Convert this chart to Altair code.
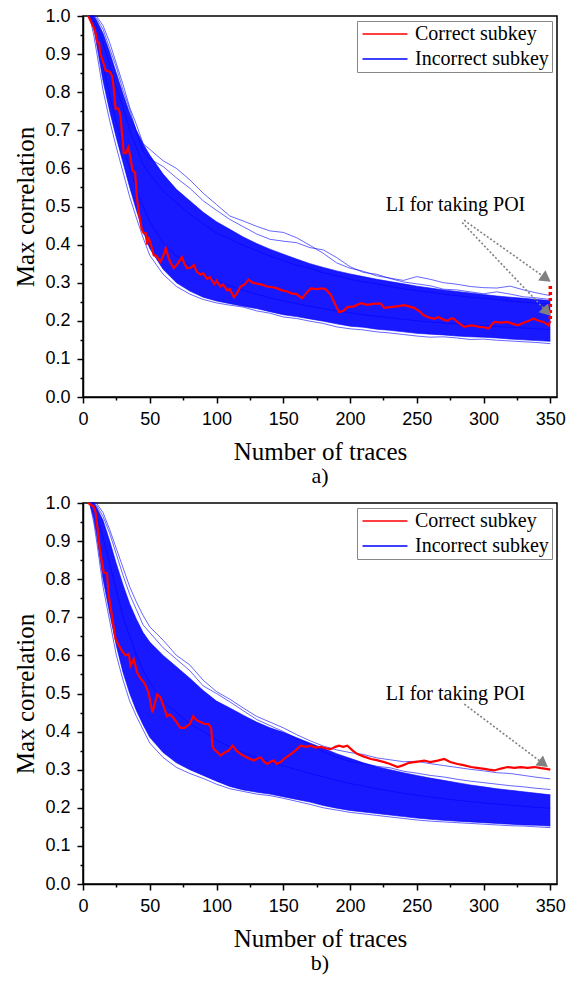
import altair as alt
import pandas as pd
import math

# ---------------- data ----------------
G = [5, 8, 10, 15, 20, 25, 30, 35, 40, 45, 50, 60, 70, 80, 90, 100, 110, 120, 130, 140,
     150, 160, 170, 180, 190, 200, 210, 220, 230, 240, 250, 260, 270, 280, 290, 300,
     310, 320, 330, 340, 350]

# panel a) dense band of incorrect subkeys (lower / upper edge)
A_LOW = [1.0, 0.97, 0.93, 0.83, 0.75, 0.68, 0.615, 0.55, 0.49, 0.435, 0.39, 0.335, 0.30, 0.278,
         0.262, 0.252, 0.245, 0.238, 0.232, 0.224, 0.216, 0.211, 0.205, 0.199, 0.192, 0.186,
         0.183, 0.178, 0.175, 0.171, 0.167, 0.165, 0.163, 0.16, 0.158, 0.157, 0.155, 0.152,
         0.15, 0.148, 0.146]
A_UP = [1.0, 1.0, 0.99, 0.955, 0.905, 0.85, 0.795, 0.745, 0.70, 0.665, 0.635, 0.585, 0.545,
        0.515, 0.485, 0.46, 0.44, 0.42, 0.403, 0.388, 0.375, 0.362, 0.35, 0.34, 0.331, 0.323,
        0.316, 0.309, 0.303, 0.297, 0.291, 0.286, 0.281, 0.277, 0.273, 0.269, 0.265, 0.262,
        0.259, 0.256, 0.253]
# panel a) individual incorrect-subkey traces
A_L1 = [1.0, 1.0, 1.0, 0.975, 0.93, 0.875, 0.82, 0.76, 0.715, 0.665, 0.65, 0.62, 0.60, 0.57,
        0.535, 0.505, 0.475, 0.462, 0.448, 0.436, 0.432, 0.418, 0.398, 0.377, 0.352, 0.338,
        0.33, 0.318, 0.312, 0.306, 0.316, 0.309, 0.30, 0.296, 0.29, 0.287, 0.286, 0.291,
        0.281, 0.273, 0.266]
A_L2 = [1.0, 1.0, 0.995, 0.965, 0.915, 0.865, 0.805, 0.755, 0.695, 0.645, 0.625, 0.605, 0.575,
        0.548, 0.515, 0.49, 0.466, 0.447, 0.428, 0.414, 0.409, 0.405, 0.392, 0.386, 0.366,
        0.342, 0.327, 0.322, 0.311, 0.302, 0.297, 0.292, 0.283, 0.281, 0.276, 0.271, 0.276,
        0.27, 0.263, 0.26, 0.256]
A_L3 = [1.0, 0.99, 0.975, 0.93, 0.87, 0.815, 0.76, 0.7, 0.655, 0.61, 0.585, 0.54, 0.51, 0.48,
        0.455, 0.43, 0.415, 0.398, 0.385, 0.37, 0.358, 0.346, 0.338, 0.326, 0.318, 0.309,
        0.302, 0.297, 0.29, 0.284, 0.279, 0.275, 0.27, 0.266, 0.262, 0.259, 0.256, 0.252,
        0.249, 0.246, 0.244]
A_L4 = [1.0, 0.95, 0.91, 0.805, 0.725, 0.655, 0.59, 0.525, 0.47, 0.418, 0.372, 0.322, 0.29,
        0.27, 0.256, 0.247, 0.241, 0.236, 0.226, 0.22, 0.21, 0.206, 0.199, 0.193, 0.184,
        0.179, 0.176, 0.171, 0.168, 0.164, 0.16, 0.157, 0.158, 0.155, 0.151, 0.152, 0.149,
        0.147, 0.145, 0.143, 0.14]
A_L5 = [1.0, 0.98, 0.95, 0.87, 0.79, 0.72, 0.655, 0.6, 0.545, 0.5, 0.46, 0.405, 0.37, 0.345,
        0.322, 0.305, 0.292, 0.28, 0.27, 0.26, 0.252, 0.245, 0.238, 0.232, 0.226, 0.221,
        0.216, 0.212, 0.208, 0.204, 0.2, 0.197, 0.194, 0.192, 0.189, 0.187, 0.185, 0.183,
        0.181, 0.179, 0.177]

# panel a) correct subkey
RA_X = [4, 8, 9.4, 11, 12, 13, 15, 17, 19, 20.6,
        22, 23, 24.4, 26.6, 28, 29.5, 30.5, 32, 34, 35.5,
        37, 39, 40.6, 42, 44, 45.5, 47, 48, 49, 50.6,
        53, 55, 58, 60, 62, 64.6, 66, 68, 71, 74,
        76, 78, 81, 83, 85, 88, 90, 93, 95, 98.5,
        100, 103, 105, 108, 110, 113, 115, 118, 121, 124,
        127, 131, 134, 138, 142, 145.5, 149, 153, 156, 160,
        164, 167, 170.6, 175, 179.4, 182, 185.6, 188, 191.7, 195,
        198, 203, 208, 213, 218, 223, 225.6, 230, 235, 240.6,
        244, 248, 252, 255, 258, 263, 266, 270, 273, 276,
        278, 281, 285.6, 290, 293, 297, 300, 304, 306, 308,
        313, 318, 322, 325.6, 330, 334, 337.6, 341, 345, 348.6,
        350]
RA_Y = [1.0, 0.97, 0.955, 0.93, 0.93, 0.90, 0.88, 0.857, 0.855, 0.852,
        0.84, 0.81, 0.757, 0.757, 0.74, 0.68, 0.64, 0.64, 0.655, 0.63,
        0.595, 0.59, 0.516, 0.48, 0.44, 0.43, 0.43, 0.40, 0.42, 0.403,
        0.372, 0.37, 0.355, 0.37, 0.39, 0.36, 0.35, 0.338, 0.35, 0.367,
        0.35, 0.338, 0.34, 0.346, 0.33, 0.321, 0.325, 0.31, 0.315, 0.296,
        0.305, 0.29, 0.295, 0.28, 0.283, 0.262, 0.27, 0.29, 0.295, 0.308,
        0.30, 0.297, 0.295, 0.29, 0.288, 0.285, 0.28, 0.277, 0.272, 0.27,
        0.259, 0.272, 0.285, 0.283, 0.285, 0.282, 0.268, 0.25, 0.223, 0.226,
        0.236, 0.238, 0.246, 0.242, 0.245, 0.245, 0.234, 0.236, 0.238, 0.241,
        0.238, 0.234, 0.225, 0.215, 0.21, 0.205, 0.21, 0.203, 0.20, 0.207,
        0.205, 0.195, 0.184, 0.188, 0.187, 0.184, 0.183, 0.18, 0.19, 0.197,
        0.195, 0.197, 0.192, 0.188, 0.195, 0.2, 0.206, 0.2, 0.197, 0.188,
        0.20]
# LI values marked at 350 traces in panel a)
RA_DOTS = [0.205, 0.295]

# panel b)
B_LOW = [1.0, 0.96, 0.92, 0.80, 0.71, 0.625, 0.555, 0.5, 0.455, 0.418, 0.385, 0.345, 0.318,
         0.3, 0.285, 0.27, 0.256, 0.247, 0.241, 0.236, 0.229, 0.222, 0.215, 0.206, 0.199,
         0.193, 0.189, 0.185, 0.181, 0.177, 0.173, 0.17, 0.167, 0.165, 0.163, 0.161, 0.159,
         0.157, 0.155, 0.154, 0.152]
B_UP = [1.0, 1.0, 0.99, 0.955, 0.9, 0.84, 0.785, 0.735, 0.695, 0.66, 0.635, 0.6, 0.57, 0.54,
        0.508, 0.48, 0.462, 0.443, 0.425, 0.41, 0.398, 0.384, 0.37, 0.356, 0.342, 0.33,
        0.318, 0.308, 0.3, 0.292, 0.285, 0.278, 0.272, 0.266, 0.26, 0.255, 0.25, 0.246,
        0.242, 0.238, 0.234]
B_L1 = [1.0, 1.0, 1.0, 0.975, 0.93, 0.88, 0.83, 0.78, 0.74, 0.705, 0.675, 0.64, 0.6, 0.575,
        0.535, 0.505, 0.485, 0.462, 0.44, 0.425, 0.41, 0.392, 0.376, 0.362, 0.352, 0.345,
        0.34, 0.331, 0.326, 0.321, 0.322, 0.316, 0.311, 0.306, 0.301, 0.297, 0.292, 0.29,
        0.285, 0.28, 0.276]
B_L2 = [1.0, 1.0, 0.995, 0.965, 0.92, 0.865, 0.81, 0.76, 0.72, 0.68, 0.66, 0.62, 0.59, 0.56,
        0.52, 0.5, 0.478, 0.455, 0.432, 0.416, 0.4, 0.382, 0.366, 0.347, 0.332, 0.322, 0.316,
        0.309, 0.305, 0.296, 0.291, 0.285, 0.281, 0.275, 0.27, 0.266, 0.262, 0.258, 0.255,
        0.251, 0.248]
B_L3 = [1.0, 0.99, 0.97, 0.91, 0.84, 0.77, 0.7, 0.65, 0.6, 0.56, 0.53, 0.48, 0.45, 0.42, 0.4,
        0.378, 0.36, 0.345, 0.332, 0.32, 0.31, 0.3, 0.29, 0.281, 0.272, 0.264, 0.257, 0.25,
        0.244, 0.238, 0.233, 0.228, 0.224, 0.22, 0.216, 0.213, 0.21, 0.207, 0.204, 0.201,
        0.199]
B_L4 = [1.0, 0.95, 0.905, 0.78, 0.69, 0.6, 0.535, 0.48, 0.44, 0.405, 0.37, 0.332, 0.306, 0.29,
        0.277, 0.262, 0.25, 0.243, 0.236, 0.232, 0.225, 0.217, 0.209, 0.2, 0.194, 0.188,
        0.184, 0.18, 0.176, 0.172, 0.168, 0.165, 0.163, 0.161, 0.159, 0.157, 0.155, 0.153,
        0.152, 0.15, 0.148]

RB_X = [4, 8, 9.4, 11, 11.9, 13, 15.5, 18, 19.3, 21,
        22, 24.4, 27, 29.5, 32, 34.3, 35.6, 38, 40.6, 43,
        45.5, 47, 49, 52, 55.6, 58, 60, 63, 65, 68,
        70, 73, 76, 78, 80, 82.5, 85, 88, 91, 94,
        96, 96.9, 98, 101, 103, 106, 109, 112, 115, 118,
        121, 124, 128, 131, 133, 136, 138, 141, 143, 145,
        148, 151, 155.6, 159, 163, 167, 170.6, 174, 178, 182,
        185.6, 189, 191.7, 195, 198, 202, 205.6, 210, 215.6, 220,
        225.6, 230, 235.6, 240, 244, 248, 252, 255.6, 260, 265.6,
        270.6, 275, 280.6, 285, 290.6, 295, 300.6, 304, 308, 313,
        318, 323, 328, 333, 338, 343, 347, 350]
RB_Y = [1.0, 0.99, 0.976, 0.93, 0.90, 0.87, 0.818, 0.815, 0.757, 0.72,
        0.695, 0.643, 0.625, 0.61, 0.60, 0.604, 0.573, 0.59, 0.555, 0.54,
        0.53, 0.52, 0.504, 0.45, 0.498, 0.49, 0.47, 0.44, 0.445, 0.435,
        0.425, 0.41, 0.41, 0.415, 0.42, 0.44, 0.43, 0.425, 0.42, 0.42,
        0.41, 0.363, 0.354, 0.345, 0.337, 0.345, 0.35, 0.363, 0.35, 0.341,
        0.335, 0.33, 0.324, 0.33, 0.332, 0.32, 0.315, 0.322, 0.324, 0.315,
        0.32, 0.33, 0.341, 0.35, 0.363, 0.36, 0.363, 0.358, 0.36, 0.356,
        0.354, 0.36, 0.363, 0.36, 0.363, 0.35, 0.341, 0.335, 0.328, 0.325,
        0.32, 0.315, 0.307, 0.312, 0.318, 0.32, 0.322, 0.324, 0.32, 0.324,
        0.328, 0.32, 0.315, 0.312, 0.307, 0.305, 0.302, 0.3, 0.298, 0.303,
        0.307, 0.305, 0.307, 0.305, 0.307, 0.304, 0.302, 0.30]

# axis tick positions (major labelled, minor unlabelled)
X_TICKS = [0, 25, 50, 75, 100, 125, 150, 175, 200, 225, 250, 275, 300, 325, 350]
Y_TICKS = [0.0, 0.05, 0.1, 0.15, 0.2, 0.25, 0.3, 0.35, 0.4, 0.45, 0.5, 0.55, 0.6, 0.65,
           0.7, 0.75, 0.8, 0.85, 0.9, 0.95, 1.0]

# annotation: text anchor and arrows (start -> tip) in data units
NOTE = "LI for taking POI"
NOTE_A = (279, 0.487)
ARROWS_A = [(285.4, 0.464, 350.6, 0.302), (284.0, 0.458, 350.6, 0.212)]
NOTE_B = (279, 0.484)
ARROWS_B = [(285.6, 0.472, 348.5, 0.306)]

SERIES = ["Correct subkey", "Incorrect subkey"]
COLORS = ["#ff0000", "#0000ff"]

# ---------------- chart ----------------
X_MAX = 355
W, H = 474, 381
PX_X = W / X_MAX
PX_Y = H / 1.0
SANS = "Liberation Sans"
SERIF = "Liberation Serif"


def make_panel(lines, low, up, rx, ry, note, arrows, label, dots=None):
    blue = pd.DataFrame(
        [{"x": G[i], "y": ln[i], "id": k, "series": SERIES[1]}
         for k, ln in enumerate(lines) for i in range(len(G))]
    )
    band = pd.DataFrame({"x": G, "lo": low, "hi": up})
    red = pd.DataFrame({"x": rx, "y": ry, "series": SERIES[0]})

    xs = alt.Scale(domain=[0, X_MAX], nice=False, zero=False)
    ys = alt.Scale(domain=[0, 1], nice=False)
    xaxis = alt.Axis(
        values=X_TICKS,
        labelExpr="datum.value % 50 == 0 ? datum.label : ''",
        tickSize={"condition": {"test": "datum.value % 50 == 0", "value": 6}, "value": 3},
        labelFlush=False, labelOverlap=False, labelPadding=7,
        title="Number of traces", titlePadding=11, grid=False,
    )
    yaxis = alt.Axis(
        values=Y_TICKS, format=".1f",
        labelExpr="round(datum.value * 100) % 10 == 0 ? datum.label : ''",
        tickSize={"condition": {"test": "round(datum.value * 100) % 10 == 0", "value": 6},
                  "value": 3},
        labelFlush=False, labelOverlap=False, labelPadding=7,
        title="Max correlation", titlePadding=6, grid=False,
    )
    color = alt.Color(
        "series:N",
        scale=alt.Scale(domain=SERIES, range=COLORS),
        legend=alt.Legend(
            title=None, orient="top-right", offset=5,
            symbolType="M-3,0H3", symbolSize=225, symbolStrokeWidth=2,
            symbolOffset=15, labelOffset=20,
            labelFont=SERIF, labelFontSize=20, labelColor="black",
            padding=3, rowPadding=5,
            strokeColor="#888888", fillColor="white",
        ),
    )

    area = alt.Chart(band).mark_area(color="#0000ff", opacity=0.9).encode(
        x=alt.X("x:Q", scale=xs, axis=xaxis),
        y=alt.Y("lo:Q", scale=ys, axis=yaxis),
        y2="hi:Q",
    )
    blines = alt.Chart(blue).mark_line(strokeWidth=0.8, opacity=0.75).encode(
        x=alt.X("x:Q", axis=xaxis), y=alt.Y("y:Q", axis=yaxis), detail="id:N", color=color
    )
    rline = alt.Chart(red).mark_line(strokeWidth=2.2).encode(
        x=alt.X("x:Q", axis=xaxis), y=alt.Y("y:Q", axis=yaxis), color=color
    )
    layers = [area, blines, rline]

    if dots is not None:
        dd = pd.DataFrame({"x": [350], "y": [dots[0]], "y2": [dots[1]]})
        layers.append(
            alt.Chart(dd).mark_rule(color="#ff0000", strokeWidth=3.5, strokeDash=[3, 3]).encode(
                x=alt.X("x:Q", axis=xaxis), y=alt.Y("y:Q", axis=yaxis), y2="y2:Q"
            )
        )

    nd = pd.DataFrame({"x": [note[0]], "y": [note[1]], "t": [NOTE]})
    layers.append(
        alt.Chart(nd).mark_text(font=SERIF, fontSize=20, color="black",
                                align="center", baseline="alphabetic").encode(
            x=alt.X("x:Q", axis=xaxis), y=alt.Y("y:Q", axis=yaxis), text="t:N")
    )

    ar = []
    for (x0, y0, x1, y1) in arrows:
        dxp = (x1 - x0) * PX_X
        dyp = (y0 - y1) * PX_Y
        ang = math.degrees(math.atan2(dyp, dxp))
        L = math.hypot(dxp, dyp)
        back = 6.0
        cx = x1 - (dxp / L) * back / PX_X
        cy = y1 + (dyp / L) * back / PX_Y
        ar.append({"x": x0, "y": y0, "x2": x1 - (dxp / L) * 9 / PX_X,
                   "y2": y1 + (dyp / L) * 9 / PX_Y, "hx": cx, "hy": cy, "ang": ang})
    ad = pd.DataFrame(ar)
    layers.append(
        alt.Chart(ad).mark_rule(color="#808080", strokeWidth=1.6, strokeDash=[2, 2]).encode(
            x=alt.X("x:Q", axis=xaxis), y=alt.Y("y:Q", axis=yaxis), x2="x2:Q", y2="y2:Q")
    )
    layers.append(
        alt.Chart(ad).mark_point(shape="triangle-right", filled=True, color="#808080",
                                 opacity=1, size=160).encode(
            x=alt.X("hx:Q", axis=xaxis), y=alt.Y("hy:Q", axis=yaxis),
            angle=alt.Angle("ang:Q", scale=None))
    )

    return alt.layer(*layers).properties(
        width=W, height=H,
        title=alt.TitleParams(label, orient="bottom", anchor="middle", font=SERIF,
                              fontSize=22, fontWeight="normal", color="black", offset=2),
    )


pa = make_panel([A_L1, A_L2, A_L3, A_L4, A_L5, A_LOW, A_UP], A_LOW, A_UP, RA_X, RA_Y,
                NOTE_A, ARROWS_A, "a)", dots=RA_DOTS)
pb = make_panel([B_L1, B_L2, B_L3, B_L4, B_LOW, B_UP], B_LOW, B_UP, RB_X, RB_Y,
                NOTE_B, ARROWS_B, "b)")

chart = alt.vconcat(pa, pb, spacing=5).resolve_scale(color="independent").properties(
    padding={"left": 13, "top": 6, "right": 5, "bottom": 5},
    background="white",
).configure_view(
    stroke="black", strokeWidth=1.5
).configure_axis(
    labelFont=SANS, labelFontSize=18, labelColor="black",
    titleFont=SERIF, titleFontSize=25, titleFontWeight="normal", titleColor="black",
    domainColor="black", domainWidth=1.5, tickColor="black", tickWidth=1.5, grid=False,
)

chart.save("out.html", embed_options={"renderer": "svg", "actions": False})
